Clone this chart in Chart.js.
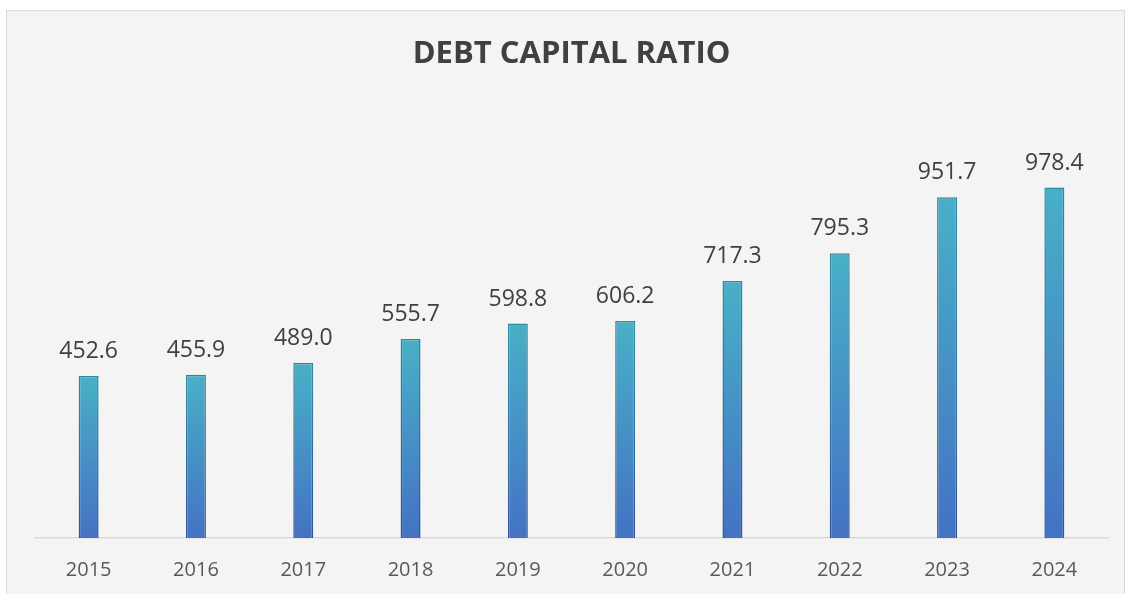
<!DOCTYPE html>
<html>
<head>
<meta charset="utf-8">
<script src="https://cdn.jsdelivr.net/npm/chart.js@4/dist/chart.umd.min.js"></script>
<style>
  html, body { margin: 0; padding: 0; background: #ffffff; width: 1129px; height: 594px; overflow: hidden; }
  #box { position: absolute; left: 6px; top: 10px; width: 1119px; height: 600px; background: #f4f4f4; border: 1px solid #d9d9d9; box-sizing: border-box; }
  #c { position: absolute; left: 0; top: 0; }
</style>
</head>
<body>
<div id="box"></div>
<canvas id="c" width="1129" height="594"></canvas>
<script>
const categories = ["2015", "2016", "2017", "2018", "2019", "2020", "2021", "2022", "2023", "2024"];
const values = [452.6, 455.9, 489.0, 555.7, 598.8, 606.2, 717.3, 795.3, 951.7, 978.4];
const titleText = "DEBT CAPITAL RATIO";

function barGradient(ctx, top, bottom, c1, c2) {
  const g = ctx.createLinearGradient(0, top, 0, bottom);
  g.addColorStop(0, c1);
  g.addColorStop(1, c2);
  return g;
}

function scripted(c1, c2) {
  return function (context) {
    const chart = context.chart;
    const y = chart.scales && chart.scales.y;
    if (!chart.chartArea || !y || context.dataIndex === undefined) return c2;
    const top = y.getPixelForValue(values[context.dataIndex]);
    const bottom = y.getPixelForValue(0);
    return barGradient(chart.ctx, top, bottom, c1, c2);
  };
}

const labelPlugin = {
  id: 'valueLabels',
  afterDatasetsDraw(chart) {
    const ctx = chart.ctx;
    const meta = chart.getDatasetMeta(0);
    ctx.save();
    ctx.font = '23px "Open Sans"';
    ctx.fillStyle = '#404040';
    ctx.textAlign = 'center';
    ctx.textBaseline = 'alphabetic';
    meta.data.forEach((bar, i) => {
      ctx.fillText(values[i].toFixed(1), bar.x, bar.y - 18);
    });
    ctx.restore();
  }
};

new Chart(document.getElementById('c'), {
  type: 'bar',
  data: {
    labels: categories,
    datasets: [{
      data: values,
      backgroundColor: scripted('#48b0c7', '#4472c4'),
      borderColor: scripted('#2f8aa0', '#2f5597'),
      borderWidth: 1.5,
      categoryPercentage: 1.0,
      barPercentage: 0.186
    }]
  },
  options: {
    responsive: false,
    animation: false,
    layout: { padding: { left: 35, right: 21, top: 0, bottom: 0 } },
    plugins: {
      legend: { display: false },
      tooltip: { enabled: false },
      title: {
        display: true,
        text: titleText,
        color: '#404040',
        font: { family: '"Open Sans"', size: 31, weight: 'bold', lineHeight: 1.2 },
        padding: { top: 36, bottom: 35 }
      }
    },
    scales: {
      x: {
        grid: { display: false, drawTicks: false },
        border: { display: true, color: '#d9d9d9', width: 1.5 },
        ticks: { color: '#595959', font: { family: '"Open Sans"', size: 20 }, padding: 20 },
        afterFit(scale) { scale.height = 56; }
      },
      y: {
        display: false,
        min: 0,
        max: 1200
      }
    }
  },
  plugins: [labelPlugin]
});
</script>
</body>
</html>
